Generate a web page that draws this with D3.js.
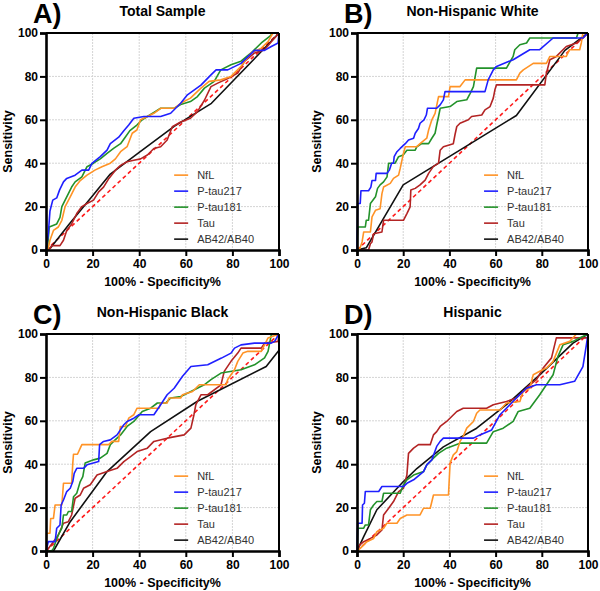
<!DOCTYPE html>
<html>
<head>
<meta charset="utf-8">
<script src="https://cdn.jsdelivr.net/npm/d3@7"></script>
<style>
  body { margin: 0; background: #fff; }
  svg { display: block; }
</style>
</head>
<body>
<div id="chart"></div>
<script>
// Series names and colours (legend order)
var seriesNames = ["NfL", "P-tau217", "P-tau181", "Tau", "AB42/AB40"];
var seriesColors = ["#ff9326", "#1f1fff", "#23922a", "#b32424", "#111111"];
var tickValues = [0, 20, 40, 60, 80, 100];
var diagonal = [[0, 0], [100, 100]];

// A) Total Sample  -  [100% - specificity, sensitivity]
var aNfL = [[0,0],[1,1],[1.7,4.5],[3.2,9],[5.3,10.6],[6.8,13.7],[8.2,20],[10.4,24.5],[12.5,29],[14.7,32],[17.6,34.5],[21,36.8],[24,38.4],[27.6,40],[29.8,42],[32,45.3],[34.8,47.6],[37,53.8],[39,55.3],[40.6,60],[43.5,61.5],[46.3,63],[49.2,65.3],[55,65.3],[57.8,67.6],[62,70],[66.5,74.6],[70,77.7],[75,78.4],[79.4,80],[83.7,84.6],[88,90.8],[92.4,93],[95.3,96],[97.4,100],[100,100]];
var aPtau217 = [[0,0],[1,7.5],[1.7,18],[2.9,23],[4.6,24],[5.8,27.6],[7.5,31.4],[8.9,33],[12.5,34.5],[15.4,36.8],[18.3,36.8],[19.7,39.9],[23.3,43],[26.2,46],[27.6,49],[31.2,52],[33.4,55],[35.5,57.6],[37.7,60.7],[42,61.5],[49.2,61.5],[53.5,63],[57.8,67.6],[60.7,71.5],[66.5,76],[70.8,80.7],[73,83],[78,83],[83.7,86],[86.6,89],[89.5,92],[93.8,92],[96.7,93.8],[99.6,95.4],[100,100]];
var aPtau181 = [[0,0],[0.6,0.6],[1.4,10.6],[4.6,12],[6,15],[6.8,20],[8.2,23],[9.6,26],[11,29],[12.5,31.4],[15.4,33.7],[17.6,38.4],[20.4,40],[23.3,42],[26.2,44.5],[29,46.8],[32,49],[34,52],[36,55],[39,57.6],[41.3,60],[43.5,61.5],[47,63.8],[49.2,65.3],[55,65.3],[57.8,67],[62,68.4],[65,70.7],[68,74.6],[72.2,77.7],[75,83],[79.4,85.4],[83.7,87],[88,90.8],[92.4,95.4],[96,98.5],[97.4,100],[100,100]];
var aTau = [[0,0],[1.7,0.6],[2.4,2],[6,2],[7.5,4.5],[8.9,9],[11,12],[13.2,16.8],[15.4,20],[17.6,21.4],[20.4,23],[22.6,26.8],[24.7,29],[27,33],[29.8,36.8],[32,39],[34.8,40.7],[37.7,41.4],[40.6,42],[43.5,43.8],[46.3,46.8],[49.2,47.6],[52,50.7],[54.2,56.8],[57.8,59],[62,60.7],[65,63.8],[68,69],[70.8,75.3],[73.7,76.9],[78,79],[82.3,81.5],[85.2,86.9],[89.5,90.8],[93.8,92.3],[96.7,96],[98.8,98.5],[100,100]];
var aAB = [[0,0],[2,1],[10,12],[20,25],[27.6,35],[40,45],[55,57],[71,67.6],[92,91],[100,100]];

// B) Non-Hispanic White
var bNfL = [[0,0],[1.2,0.6],[2.2,3.7],[2.9,8.3],[5.8,8.3],[6.5,15.3],[8,18.3],[10,19],[10.8,26],[11.5,29],[14.4,30.7],[15.8,33],[18,34.5],[18.7,37.6],[20.1,44.5],[20.9,47.6],[25.9,47.6],[27.3,49],[30.2,51.5],[31,55.3],[32.4,60],[33.8,63],[35.3,70.7],[39.6,70.7],[40.3,75.3],[44.6,75.3],[46.8,78.4],[69,78.4],[70.5,81.5],[72,83],[76.3,86],[82,86],[83.5,89.2],[90.6,89.2],[92,92.3],[96.4,92.3],[97.1,95.4],[97.8,100],[100,100]];
var bPtau217 = [[0,0],[0.3,21.4],[1.4,21.4],[1.7,27.3],[5,27.3],[6,29],[6.5,32],[8,32],[8.3,35.3],[13,35.3],[14,36.8],[15,40],[15.8,40],[16.1,43],[17.3,45.3],[18.7,46.8],[20.9,49],[22.3,50.7],[24.5,51.5],[25.2,53.8],[26.6,56],[27.3,58.4],[29,60],[30,62.2],[30.5,65.3],[34.5,65.3],[36,66.9],[37.4,69.2],[38.1,73],[55.4,73],[56.8,78.4],[59,83],[60.4,84.6],[67.6,87.7],[71.2,90],[74.8,92.3],[79.1,92.3],[84.9,97.7],[97.8,97.7],[100,100]];
var bPtau181 = [[0,0],[0.3,10.6],[3.6,10.6],[4,13.7],[5,13.7],[5.8,21.4],[8,24.5],[8.9,28.4],[10,30],[11.5,31.4],[13,33.7],[13.7,40],[16.5,40],[18,43],[20,43.8],[21.6,46],[25.2,46],[25.9,47.6],[28,49],[31,49],[32.4,51.5],[33.8,53.8],[34.5,57.6],[35.3,61.5],[36,65.3],[40.3,66.1],[43.2,68.4],[47.5,69.2],[49,72.2],[50.4,75.3],[51.8,83.8],[64.7,83.8],[67.6,89.2],[68.3,92.3],[70.5,94.6],[73.4,95.4],[74.8,97.7],[95,97.7],[95.7,100],[100,100]];
var bTau = [[0,0],[5,0],[5.8,2.9],[6.5,3.7],[7.2,7.5],[10.8,8.3],[11.5,13.7],[20.1,13.7],[21.6,16.8],[23,19.9],[23.3,27.6],[25.2,28.4],[27.3,30],[29.5,32.2],[31,35.3],[33,38.4],[35.3,40],[36,46],[37.4,47.6],[41.7,49],[42.4,53],[43.2,56.9],[44.6,58.4],[48.2,60],[49.6,61.5],[54,62.2],[55.4,64.6],[57.6,66.1],[59,70],[59.7,73.8],[60.4,76.1],[81.3,76.1],[82,81.5],[83.5,87.7],[86.3,89.2],[90.6,93.8],[95,95.4],[97.8,97.7],[100,100]];
var bAB = [[0,0],[4,1],[20,30],[69,62],[90,92],[100,100]];

// C) Non-Hispanic Black
var cNfL = [[0,0],[0.3,8.2],[1.7,8.2],[2,15],[3.2,15],[3.9,21.2],[6.8,21.2],[7.5,31.2],[11,31.2],[11.5,40.5],[11.8,44.6],[13.5,44.6],[14.7,47.4],[15.4,49],[26.9,49],[28.3,50.5],[31.2,50.5],[31.9,57.4],[34.1,57.4],[35.5,61.2],[37.7,62.8],[39.1,65.8],[48.5,65.8],[49.2,68.2],[52,68.2],[52.8,70.5],[57.8,70.5],[58.6,72],[62.9,73.5],[65.8,76.6],[77.3,76.6],[78,79],[79.4,81.2],[80.9,83.5],[82.3,87.4],[84.5,91.2],[86.6,92],[92.4,92],[93.8,95],[95.3,98.2],[100,100]];
var cPtau217 = [[0,0],[1,4.3],[3.9,4.3],[4.6,10.5],[6,12],[6.5,21.2],[7.5,23.5],[8.9,27.4],[10.4,28.9],[11.5,32],[12.1,35.8],[13.2,38.1],[16.1,38.1],[17.6,39.7],[22.6,41.2],[23,49],[24.7,50.5],[27.6,51.2],[30.5,53.5],[33.4,58.2],[34.8,59.7],[37.7,61.2],[39.9,62.8],[46.3,62.8],[49.2,67.4],[52,72],[55,75],[58.6,80.5],[62.2,85],[69.4,85.8],[75.3,88.9],[79.4,91.2],[80.9,93.5],[83.7,95],[89.5,95.8],[96.7,95.8],[98.1,96.6],[100,100]];
var cPtau181 = [[0,0],[2.4,0],[3.2,1.2],[3.9,3.5],[5.3,7.4],[6.8,10.5],[7.5,16.6],[8.9,16.6],[9.6,18.2],[11,18.2],[11.8,25],[13.2,26.6],[14.7,32],[15.8,34.3],[16.8,40.5],[20.4,42],[23.3,42.8],[26.2,45],[27.6,49],[29,50.5],[32,53.5],[34.8,57.4],[37.7,59.7],[41.3,64.3],[44.9,65.8],[47.8,68.2],[51.4,68.2],[53.5,70.5],[57.8,71.2],[62.2,73.5],[67.9,76.6],[70.8,79],[75.1,82],[83.7,83.5],[89.5,85.8],[93.8,89],[95.3,92],[96.7,99.7],[100,100]];
var cTau = [[0,0],[1,1.2],[3.2,4.3],[5.3,7.4],[7.5,12.8],[9.6,13.5],[11,16.6],[12.5,24.3],[14.7,25.8],[16.1,28.9],[19,30.5],[21.9,35],[26.2,36.6],[30.5,38.1],[33.4,41.2],[36.3,43.5],[39.1,45.8],[43.5,47.4],[46.3,50.5],[52,52],[59.3,53.5],[62.2,56.6],[63.5,62.8],[64.3,67.4],[66.5,72],[69.4,72],[75.1,76.6],[76.5,82.8],[79.4,87.4],[82.3,91.2],[83.7,93.5],[92.4,93.5],[93.8,95.8],[99.6,96.6],[100,100]];
var cAB = [[0,0],[3.2,0],[10.4,13.5],[26.2,36.6],[44.9,55],[65,69],[94.5,85],[100,92.5]];

// D) Hispanic
var dNfL = [[0,0],[1.4,1.2],[2.9,2.8],[4.3,4.3],[7.2,5.8],[8.6,8.9],[11.5,10.5],[12.9,12.8],[17.3,12.8],[18.7,15],[21.6,16.6],[27.3,16.6],[28.8,19.7],[31.7,19.7],[33.1,25.8],[39.6,25.8],[40.3,40.5],[41.7,44.3],[43.2,45.8],[44.6,50.5],[46,52.8],[47.5,56.6],[50.4,59.7],[51.8,63.5],[53.2,65],[61.9,65],[64.7,68.2],[70.5,68.9],[71.9,73.5],[74.8,75],[76.3,81.2],[79.1,82.8],[82,84.3],[84.9,87.4],[87.8,95],[92.1,96.6],[95,100],[100,100]];
var dPtau217 = [[0,0],[0.3,12.8],[2.2,12.8],[2.4,21.2],[3.2,22],[3.6,27.4],[9.4,27.4],[10.8,29.7],[20.1,29.7],[21.6,31.2],[24.5,32.8],[28.8,36.6],[30.2,39.7],[32.4,42],[34.5,48.2],[36,50.5],[37.4,52],[50.4,52],[53.2,53.5],[58.3,55.8],[61.9,62.8],[69,70.5],[73.4,75],[77.7,76.6],[87.8,76.6],[94.2,78.2],[97.8,85],[99.3,95],[100,100]];
var dPtau181 = [[0,0],[0.3,10.5],[2.9,10.5],[3.6,12],[5,12],[5.8,19],[7.2,21.2],[8.6,22.8],[10.8,22.8],[11.5,26.6],[18.7,26.6],[20.1,30.5],[21.6,32.8],[24.5,35],[28.8,36.6],[30.2,39.7],[33.1,42.8],[35.3,45],[38.8,47.4],[44.6,49.7],[56.1,49.7],[59,55],[63.3,56.6],[67.6,59.7],[69.8,64.3],[74.8,65.8],[79.1,72],[82,76.6],[84.9,81.2],[87,89.7],[89.2,95],[93.5,96.6],[96.4,98.2],[100,100]];
var dTau = [[0,0],[1.2,2.8],[2.9,4.3],[5.8,5.8],[8.6,7.4],[10.8,9.7],[11.5,16.6],[13.7,19.7],[15.8,22.8],[18,27.4],[20.1,28.9],[21.6,35],[22.3,45],[24.5,47.4],[26.6,49],[31.7,49],[33.1,53.5],[34.5,55],[36,57.4],[38.8,59.7],[41,62],[43.2,64.3],[46,65.8],[56.1,65.8],[59,67.4],[64.7,68.9],[69,70.5],[71.9,73.5],[74.8,76.6],[77.7,79],[80.6,84.3],[84.2,89],[86.3,98.2],[100,98.2],[100,100]];
var dAB = [[0,0],[2.9,6.6],[8.6,19],[20.1,32],[25.9,38],[37.4,48],[51.8,56.6],[64.7,67.4],[79.1,81.2],[93.5,95.8],[100,100]];

var panels = [
    { label: "A)", title: "Total  Sample", left: 46, top: 33, w: 233, h: 217, series: [aNfL, aPtau217, aPtau181, aTau, aAB] },
    { label: "B)", title: "Non-Hispanic White", left: 357, top: 33, w: 231, h: 217, series: [bNfL, bPtau217, bPtau181, bTau, bAB] },
    { label: "C)", title: "Non-Hispanic Black", left: 46, top: 334, w: 233, h: 217, series: [cNfL, cPtau217, cPtau181, cTau, cAB] },
    { label: "D)", title: "Hispanic", left: 357, top: 334, w: 231, h: 217, series: [dNfL, dPtau217, dPtau181, dTau, dAB] }
];

var svg = d3.select("#chart").append("svg")
    .attr("width", 600)
    .attr("height", 591)
    .style("font-family", "'Liberation Sans', Arial, sans-serif");

// draw order: black first, blue on top
var drawOrder = [4, 3, 2, 0, 1];

panels.forEach(function (p, pi) {
    var g = svg.append("g").attr("transform", `translate(${p.left}, ${p.top})`);

    var x = d3.scaleLinear().domain([0, 100]).range([0, p.w]);
    var y = d3.scaleLinear().domain([0, 100]).range([p.h, 0]);

    // grid
    g.selectAll(".gx").data(tickValues.slice(1, -1)).enter().append("line")
        .attr("x1", d => x(d)).attr("x2", d => x(d))
        .attr("y1", 0).attr("y2", p.h)
        .attr("stroke", "#d4d4d4").attr("stroke-width", 1)
        .attr("stroke-dasharray", "2,1");
    g.selectAll(".gy").data(tickValues.slice(1, -1)).enter().append("line")
        .attr("y1", d => y(d)).attr("y2", d => y(d))
        .attr("x1", 0).attr("x2", p.w)
        .attr("stroke", "#d4d4d4").attr("stroke-width", 1)
        .attr("stroke-dasharray", "2,1");

    var clipId = "clip" + pi;
    g.append("clipPath").attr("id", clipId).append("rect")
        .attr("x", -1).attr("y", -1).attr("width", p.w + 2).attr("height", p.h + 2);

    var line = d3.line().x(d => x(d[0])).y(d => y(d[1]));

    var plot = g.append("g").attr("clip-path", `url(#${clipId})`);

    plot.append("path")
        .datum(diagonal)
        .attr("d", line)
        .attr("fill", "none")
        .attr("stroke", "#ff1a1a")
        .attr("stroke-width", 1.6)
        .attr("stroke-dasharray", "4,3");

    drawOrder.forEach(function (si) {
        plot.append("path")
            .datum(p.series[si])
            .attr("d", line)
            .attr("fill", "none")
            .attr("stroke", seriesColors[si])
            .attr("stroke-width", 1.6)
            .attr("stroke-linejoin", "round");
    });

    // frame: top and right border
    g.append("line").attr("x1", 0).attr("x2", p.w).attr("y1", 0).attr("y2", 0)
        .attr("stroke", "#000").attr("stroke-width", 2);
    g.append("line").attr("x1", p.w).attr("x2", p.w).attr("y1", 0).attr("y2", p.h)
        .attr("stroke", "#000").attr("stroke-width", 2);

    // axes
    var xAxis = g.append("g").attr("transform", `translate(0, ${p.h})`)
        .call(d3.axisBottom(x).tickValues(tickValues).tickSize(6).tickPadding(3));
    var yAxis = g.append("g")
        .call(d3.axisLeft(y).tickValues(tickValues).tickSize(6).tickPadding(2));

    [xAxis, yAxis].forEach(function (ax) {
        ax.select(".domain").attr("stroke", "#000").attr("stroke-width", 2.6);
        ax.selectAll(".tick line").attr("stroke", "#000").attr("stroke-width", 2);
        ax.selectAll("text")
            .style("font-family", "'Liberation Sans', Arial, sans-serif")
            .style("font-size", "12px")
            .style("font-weight", "700")
            .style("fill", "#000");
    });

    // axis titles
    g.append("text")
        .attr("x", p.w / 2).attr("y", p.h + 36)
        .attr("text-anchor", "middle")
        .style("font-size", "12.5px").style("font-weight", "700")
        .text("100% - Specificity%");
    g.append("text")
        .attr("transform", `translate(${-p.left + (pi % 2 ? 309 : 0) + 12}, ${p.h / 2}) rotate(-90)`)
        .attr("text-anchor", "middle")
        .style("font-size", "12.5px").style("font-weight", "700")
        .text("Sensitivity");

    // panel title and label
    g.append("text")
        .attr("x", p.w / 2).attr("y", -17)
        .attr("text-anchor", "middle")
        .style("font-size", "14px").style("font-weight", "700")
        .text(p.title);
    g.append("text")
        .attr("x", -13).attr("y", -10)
        .style("font-size", "27px").style("font-weight", "700")
        .text(p.label);

    // legend
    var leg = g.append("g").attr("transform", `translate(${p.w * 0.55}, ${p.h * 0.655})`);
    var rows = leg.selectAll(".row").data(seriesNames).enter().append("g")
        .attr("transform", (d, i) => `translate(0, ${i * 16})`);
    rows.append("line")
        .attr("x1", 0).attr("x2", 14).attr("y1", 0).attr("y2", 0)
        .attr("stroke", (d, i) => seriesColors[i]).attr("stroke-width", 1.6);
    rows.append("text")
        .attr("x", 23).attr("y", 4)
        .style("font-size", "11px")
        .style("fill", "#333")
        .text(d => d);
});
</script>
</body>
</html>
